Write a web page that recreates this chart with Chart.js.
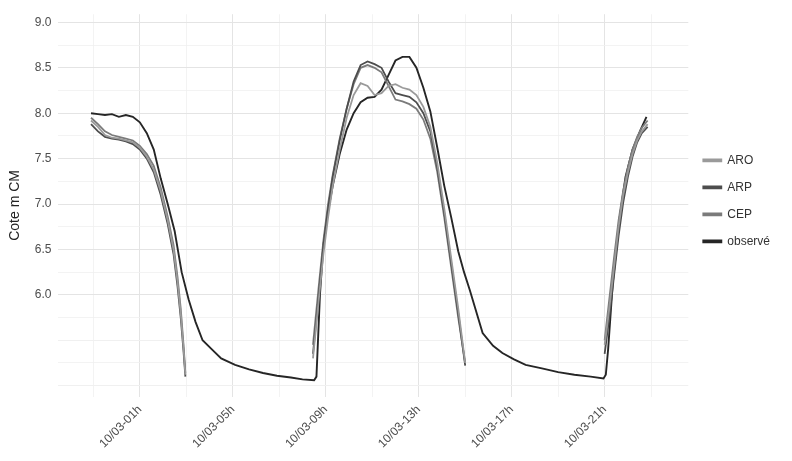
<!DOCTYPE html>
<html>
<head>
<meta charset="utf-8">
<script src="https://cdn.jsdelivr.net/npm/chart.js@4.4.0/dist/chart.umd.min.js"></script>
<style>
  html, body { margin: 0; padding: 0; background: #fff; }
  #wrap { width: 792px; height: 461px; }
</style>
</head>
<body>
<div id="wrap"><canvas id="cote"></canvas></div>
<script>
// heures depuis le 10/03 00h
const obsHours = [-1.1, -0.8, -0.5, -0.2, 0.1, 0.4, 0.7, 1.0, 1.3, 1.6, 1.9, 2.2, 2.5, 2.8, 3.1, 3.4, 3.7, 4.1, 4.5, 5.1,
  5.7, 6.3, 6.9, 7.5, 8.0, 8.5, 8.6, 8.75, 8.9, 9.1, 9.3, 9.6, 9.9, 10.2, 10.5, 10.8, 11.1, 11.4, 11.7, 12.0,
  12.3, 12.6, 12.9, 13.2, 13.5, 13.8, 14.1, 14.4, 14.7, 14.95, 15.2, 15.75, 16.2, 16.6, 17.1, 17.6, 18.3, 19.0, 19.7, 20.4,
  20.95, 21.05, 21.15, 21.35, 21.65, 21.9, 22.2, 22.55, 22.8];
const obsLevel = [8.00, 7.99, 7.98, 7.99, 7.96, 7.98, 7.96, 7.90, 7.78, 7.60, 7.28, 7.00, 6.70, 6.25, 5.95, 5.70, 5.50, 5.40, 5.30, 5.23,
  5.18, 5.14, 5.11, 5.09, 5.07, 5.06, 5.10, 6.00, 6.55, 6.92, 7.20, 7.55, 7.82, 8.00, 8.12, 8.17, 8.18, 8.26, 8.42, 8.58,
  8.62, 8.62, 8.50, 8.28, 8.02, 7.62, 7.20, 6.85, 6.48, 6.25, 6.05, 5.58, 5.44, 5.36, 5.29, 5.23, 5.19, 5.15, 5.12, 5.10,
  5.08, 5.12, 5.40, 6.13, 6.86, 7.30, 7.60, 7.82, 7.96];

// prévisions, 3 lancements
const runHours1 = [-1.1, -0.8, -0.5, -0.2, 0.1, 0.4, 0.7, 1.0, 1.3, 1.6, 1.9, 2.2, 2.45, 2.62, 2.76, 2.88, 2.96];
const aro1 = [7.92, 7.85, 7.76, 7.73, 7.72, 7.70, 7.68, 7.62, 7.52, 7.38, 7.14, 6.82, 6.50, 6.15, 5.80, 5.42, 5.12];
const arp1 = [7.88, 7.80, 7.74, 7.72, 7.71, 7.69, 7.66, 7.60, 7.50, 7.35, 7.10, 6.78, 6.45, 6.10, 5.75, 5.38, 5.10];
const cep1 = [7.95, 7.88, 7.80, 7.76, 7.74, 7.72, 7.70, 7.64, 7.55, 7.42, 7.18, 6.86, 6.55, 6.20, 5.85, 5.45, 5.14];

const runHours2 = [8.45, 8.7, 8.9, 9.1, 9.3, 9.6, 9.9, 10.2, 10.5, 10.8, 11.1, 11.4, 11.7, 12.0, 12.3, 12.6, 12.9, 13.2, 13.5, 13.8, 14.1, 14.4, 14.7, 15.0];
const aro2 = [5.30, 5.95, 6.45, 6.85, 7.20, 7.60, 7.95, 8.20, 8.33, 8.30, 8.20, 8.22, 8.30, 8.32, 8.28, 8.26, 8.20, 8.07, 7.85, 7.45, 6.95, 6.40, 5.85, 5.25];
const arp2 = [5.35, 6.00, 6.55, 6.95, 7.30, 7.70, 8.05, 8.35, 8.53, 8.57, 8.54, 8.50, 8.35, 8.22, 8.20, 8.18, 8.12, 8.00, 7.80, 7.40, 6.90, 6.35, 5.80, 5.22];
const cep2 = [5.45, 6.10, 6.60, 7.00, 7.32, 7.72, 8.05, 8.32, 8.50, 8.53, 8.50, 8.45, 8.30, 8.15, 8.13, 8.10, 8.05, 7.93, 7.72, 7.35, 6.85, 6.30, 5.75, 5.25];

const runHours3 = [21.0, 21.2, 21.4, 21.6, 21.8, 22.0, 22.2, 22.4, 22.6, 22.85];
const aro3 = [5.45, 5.85, 6.30, 6.75, 7.10, 7.35, 7.55, 7.70, 7.80, 7.88];
const arp3 = [5.35, 5.75, 6.20, 6.65, 7.02, 7.30, 7.52, 7.68, 7.78, 7.85];
const cep3 = [5.50, 5.95, 6.40, 6.82, 7.15, 7.40, 7.60, 7.74, 7.84, 7.92];

const tickHours = [1, 5, 9, 13, 17, 21];
const tickLabels = ['10/03-01h', '10/03-05h', '10/03-09h', '10/03-13h', '10/03-17h', '10/03-21h'];
const gridHours = [-1, 1, 3, 5, 7, 9, 11, 13, 15, 17, 19, 21, 23];
const yLabelled = [6.0, 6.5, 7.0, 7.5, 8.0, 8.5, 9.0];
const yGrid = [5.0, 5.25, 5.5, 5.75, 6.0, 6.25, 6.5, 6.75, 7.0, 7.25, 7.5, 7.75, 8.0, 8.25, 8.5, 8.75, 9.0];

function pts(hours, levels) {
  return hours.map((h, i) => ({ x: h, y: levels[i] }));
}
function runs(parts) {
  // un trou entre deux lancements
  let out = [];
  parts.forEach((p, i) => {
    if (i > 0) out.push({ x: p[0][0] - 0.01, y: null });
    out = out.concat(pts(p[0], p[1]));
  });
  return out;
}

function line(label, data, color, width) {
  return {
    label: label,
    data: data,
    borderColor: color,
    backgroundColor: color,
    borderWidth: width,
    pointRadius: 0,
    tension: 0,
    spanGaps: false
  };
}

Chart.defaults.font.family = '"Liberation Sans", Arial, sans-serif';

new Chart(document.getElementById('cote'), {
  type: 'line',
  data: {
    datasets: [
      line('ARO', runs([[runHours1, aro1], [runHours2, aro2], [runHours3, aro3]]), '#9a9a9a', 1.8),
      line('ARP', runs([[runHours1, arp1], [runHours2, arp2], [runHours3, arp3]]), '#4d4d4d', 1.8),
      line('CEP', runs([[runHours1, cep1], [runHours2, cep2], [runHours3, cep3]]), '#7b7b7b', 1.8),
      line('observé', pts(obsHours, obsLevel), '#262626', 1.9)
    ]
  },
  options: {
    responsive: true,
    maintainAspectRatio: false,
    animation: false,
    layout: { padding: { left: 7, right: 12, top: 5, bottom: 4 } },
    plugins: {
      tooltip: { enabled: false },
      legend: {
        position: 'right',
        align: 'start',
        title: { display: true, text: ' ', padding: { top: 120, bottom: 0 } },
        labels: {
          boxWidth: 18,
          boxHeight: 2,
          padding: 15,
          color: '#333',
          font: { size: 12 }
        }
      }
    },
    scales: {
      x: {
        type: 'linear',
        min: -2.5,
        max: 24.6,
        afterBuildTicks: (s) => { s.ticks = gridHours.map(v => ({ value: v })); },
        border: { display: false },
        grid: {
          drawTicks: false,
          color: (c) => tickHours.includes(c.tick && c.tick.value) ? '#e4e4e4' : '#f0f0f0',
          lineWidth: (c) => tickHours.includes(c.tick && c.tick.value) ? 1 : 0.8
        },
        ticks: {
          autoSkip: false,
          minRotation: 45,
          maxRotation: 45,
          padding: 6,
          color: '#4d4d4d',
          font: { size: 12 },
          callback: (v) => {
            const i = tickHours.indexOf(v);
            return i >= 0 ? tickLabels[i] : '';
          }
        }
      },
      y: {
        min: 4.88,
        max: 9.09,
        afterBuildTicks: (s) => { s.ticks = yGrid.map(v => ({ value: v })); },
        border: { display: false },
        title: { display: true, text: 'Cote m CM', color: '#222', font: { size: 14 }, padding: { top: 0, bottom: 4 } },
        grid: {
          drawTicks: false,
          color: (c) => yLabelled.includes(c.tick && c.tick.value) ? '#e4e4e4' : '#f0f0f0',
          lineWidth: (c) => (c.tick && c.tick.value * 2 % 1 === 0) ? 1 : 0.8
        },
        ticks: {
          padding: 7,
          color: '#4d4d4d',
          font: { size: 12 },
          callback: (v) => yLabelled.includes(v) ? v.toFixed(1) : ''
        }
      }
    }
  }
});
</script>
</body>
</html>
